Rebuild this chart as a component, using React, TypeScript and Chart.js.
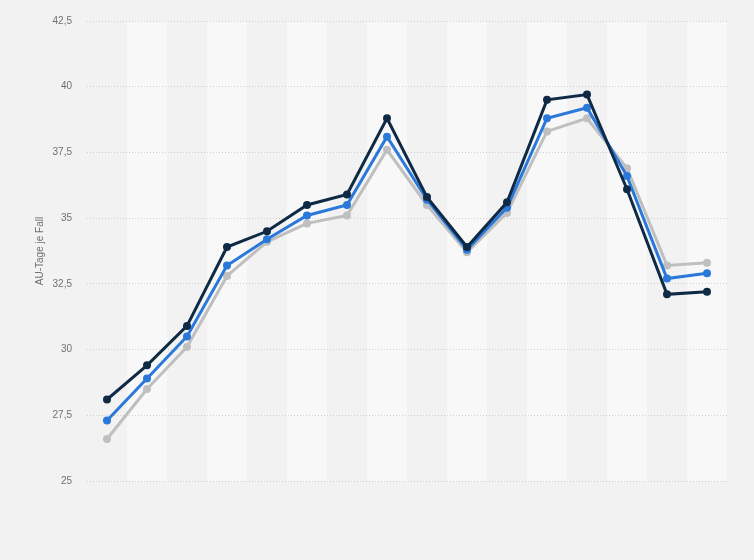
import React, { useEffect, useRef } from "react";
import { Chart, registerables } from "chart.js";

Chart.register(...registerables);

const categories = ["2005", "2006", "2007", "2008", "2009", "2010", "2011", "2012", "2013", "2014", "2015", "2016", "2017", "2018", "2019", "2020"];
const seriesDark = [28.1, 29.4, 30.9, 33.9, 34.5, 35.5, 35.9, 38.8, 35.8, 33.9, 35.6, 39.5, 39.7, 36.1, 32.1, 32.2];
const seriesBlue = [27.3, 28.9, 30.5, 33.2, 34.2, 35.1, 35.5, 38.1, 35.7, 33.8, 35.4, 38.8, 39.2, 36.6, 32.7, 32.9];
const seriesGray = [26.6, 28.5, 30.1, 32.8, 34.1, 34.8, 35.1, 37.6, 35.5, 33.7, 35.2, 38.3, 38.8, 36.9, 33.2, 33.3];
const yTitle = "AU-Tage je Fall";
const yMin = 25;
const yMax = 42.5;
const yStep = 2.5;

const bgPlugin = {
  id: "bgBands",
  beforeDraw(chart: any) {
    const { ctx, chartArea, scales } = chart;
    ctx.save();
    ctx.fillStyle = "#f2f2f2";
    ctx.fillRect(0, 0, chart.width, chart.height);
    const xs = scales.x;
    const n = categories.length;
    const w = (chartArea.right - chartArea.left) / n;
    ctx.fillStyle = "#f8f8f8";
    for (let i = 0; i < n; i++) {
      if (i % 2 === 1) {
        const cx = xs.getPixelForValue(i);
        ctx.fillRect(cx - w / 2, chartArea.top, w, chartArea.bottom - chartArea.top);
      }
    }
    ctx.restore();
  },
};

export default function App() {
  const ref = useRef<HTMLCanvasElement | null>(null);
  useEffect(() => {
    document.body.style.margin = "0";
    document.body.style.background = "#f2f2f2";
    const canvas = ref.current;
    if (!canvas) return;
    const mk = (label: string, data: number[], color: string) => ({
      label,
      data,
      borderColor: color,
      backgroundColor: color,
      borderWidth: 3,
      pointRadius: 4,
      pointBorderWidth: 0,
      pointHoverRadius: 4,
      tension: 0,
    });
    const chart = new Chart(canvas, {
      type: "line",
      data: {
        labels: categories,
        datasets: [
          mk("Serie 1", seriesDark, "#0f2a45"),
          mk("Serie 2", seriesBlue, "#2a79da"),
          mk("Serie 3", seriesGray, "#bfbfbf"),
        ],
      },
      options: {
        animation: false,
        responsive: false,
        maintainAspectRatio: false,
        layout: { padding: { left: 0, top: 19, right: 27, bottom: 79 } },
        plugins: { legend: { display: false }, tooltip: { enabled: false } },
        scales: {
          x: {
            display: false,
            offset: true,
            grid: { display: false },
          },
          y: {
            min: yMin,
            max: yMax,
            afterFit(scale: any) {
              scale.width = 87;
            },
            border: { display: false, dash: [1, 2] },
            grid: {
              color: "#cfcfcf",
              lineWidth: 1,
              drawTicks: false,
            },
            ticks: {
              stepSize: yStep,
              padding: 15,
              color: "#707070",
              font: { family: "Arial, 'Liberation Sans', sans-serif", size: 10 },
              callback: (v: any) => String(v).replace(".", ","),
            },
            title: {
              display: true,
              text: yTitle,
              color: "#707070",
              font: { family: "Arial, 'Liberation Sans', sans-serif", size: 10 },
              padding: { top: 34, bottom: 0 },
            },
          },
        },
      },
      plugins: [bgPlugin],
    } as any);
    return () => chart.destroy();
  }, []);
  return (
    <div style={{ width: 754, height: 560 }}>
      <canvas ref={ref} width={754} height={560} style={{ display: "block" }} />
    </div>
  );
}
